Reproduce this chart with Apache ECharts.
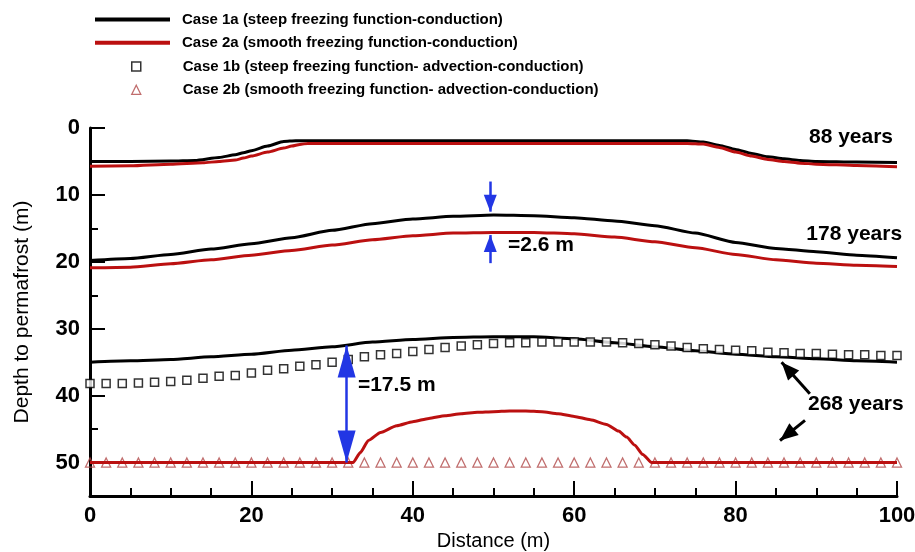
<!DOCTYPE html>
<html>
<head>
<meta charset="utf-8">
<script src="https://cdn.jsdelivr.net/npm/echarts@6/dist/echarts.min.js"></script>
<style>
  html, body { margin: 0; padding: 0; background: #fff; }
  #chart { width: 915px; height: 552px; }
</style>
</head>
<body>
<div id="chart"></div>
<script>
// ---- Series names (legend text) ----
const N1A = 'Case 1a (steep freezing function-conduction)';
const N2A = 'Case 2a (smooth freezing function-conduction)';
const N1B = 'Case 1b (steep freezing function- advection-conduction)';
const N2B = 'Case 2b (smooth freezing function- advection-conduction)';

// ---- 88 years ----
const dist88_1a  = [0, 5, 10, 13, 16, 18, 19, 20, 22, 24, 25.5, 40, 60, 74, 76, 78, 80, 82, 84, 86, 88, 90, 95, 100];
const depth88_1a = [5.0, 5.0, 4.95, 4.85, 4.4, 4.0, 3.7, 3.4, 2.7, 2.0, 1.9, 1.9, 1.9, 1.9, 2.1, 2.6, 3.2, 3.8, 4.3, 4.6, 4.85, 5.0, 5.1, 5.15];
const dist88_2a  = [0, 5, 10, 14, 16, 18, 19, 20, 22, 24, 25, 26, 27, 40, 60, 74, 76, 78, 80, 82, 84, 86, 88, 90, 95, 100];
const depth88_2a = [5.7, 5.65, 5.4, 5.2, 5.0, 4.8, 4.5, 4.2, 3.6, 3.0, 2.7, 2.45, 2.3, 2.3, 2.3, 2.3, 2.4, 2.9, 3.6, 4.2, 4.7, 5.0, 5.25, 5.4, 5.6, 5.8];

// ---- 178 and 268 years, conduction cases (every 5 m) ----
const dist5 = [0, 5, 10, 15, 20, 25, 30, 35, 40, 45, 50, 55, 60, 65, 70, 75, 80, 85, 90, 95, 100];
const depth178_1a = [19.8, 19.5, 18.9, 18.1, 17.3, 16.4, 15.3, 14.3, 13.6, 13.2, 13.0, 13.1, 13.4, 13.9, 14.6, 15.7, 17.1, 18.0, 18.5, 19.0, 19.4];
const depth178_2a = [20.9, 20.8, 20.3, 19.7, 19.0, 18.3, 17.5, 16.7, 16.1, 15.7, 15.6, 15.6, 15.8, 16.3, 17.0, 17.9, 18.9, 19.7, 20.2, 20.5, 20.7];
const depth268_1a = [35.0, 34.8, 34.6, 34.2, 33.8, 33.2, 32.7, 32.0, 31.6, 31.3, 31.2, 31.2, 31.5, 32.1, 32.7, 33.3, 33.8, 34.2, 34.5, 34.8, 35.0];

const dist268_2a  = [0, 10, 20, 30, 32.6, 33.5, 34.5, 36, 38, 40, 42, 44, 46, 48, 50, 52, 54, 56, 58, 60, 62, 64, 65.5, 66.5, 67.5, 68.5, 69.6, 80, 90, 100];
const depth268_2a = [50, 50, 50, 50, 50, 48.5, 46.7, 45.5, 44.5, 43.9, 43.4, 43.0, 42.7, 42.5, 42.4, 42.3, 42.3, 42.4, 42.7, 43.1, 43.6, 44.3, 45.3, 46.2, 47.4, 48.8, 50, 50, 50, 50];

// ---- 268 years, advection-conduction cases (every 2 m) ----
const dist2 = [0, 2, 4, 6, 8, 10, 12, 14, 16, 18, 20, 22, 24, 26, 28, 30, 32, 34, 36, 38, 40, 42, 44, 46, 48, 50,
               52, 54, 56, 58, 60, 62, 64, 66, 68, 70, 72, 74, 76, 78, 80, 82, 84, 86, 88, 90, 92, 94, 96, 98, 100];
const depth268_1b = [38.2, 38.2, 38.2, 38.1, 38.0, 37.9, 37.7, 37.4, 37.1, 37.0, 36.6, 36.2, 36.0, 35.6, 35.4, 35.0, 34.6,
                     34.2, 33.9, 33.7, 33.4, 33.1, 32.8, 32.6, 32.4, 32.2, 32.1, 32.1, 32.0, 32.0, 32.0, 32.0, 32.0, 32.1,
                     32.2, 32.4, 32.6, 32.8, 33.0, 33.1, 33.2, 33.3, 33.5, 33.6, 33.7, 33.7, 33.8, 33.9, 33.9, 34.0, 34.0];
const depth268_2b = [50, 50, 50, 50, 50, 50, 50, 50, 50, 50, 50, 50, 50, 50, 50, 50, 50, 50, 50, 50, 50, 50, 50, 50, 50, 50,
                     50, 50, 50, 50, 50, 50, 50, 50, 50, 50, 50, 50, 50, 50, 50, 50, 50, 50, 50, 50, 50, 50, 50, 50, 50];

// ---- Axis ticks ----
const xTicks = { min: 0, max: 100, major: 20, minorSplit: 4 };
const yTicks = { min: 0, max: 55, major: 10, minor: 5 };

// ---- Annotations ----
const gapAt50 = { x: 49.6, steep: 13.0, smooth: 15.6 };   // 2.6 m
const gap268 = { x: 31.8, bottom: 50, size: 17.5 };        // 17.5 m
const timeLabels = [
  { text: '88 years',  at: [94.3, 1.35] },
  { text: '178 years', at: [94.7, 15.9] },
  { text: '268 years', at: [94.9, 41.3] }
];

const FONT = "'Liberation Sans', Arial, sans-serif";
const RED = '#bb1010';
const TRI = '#b04848';
const BLUE = '#2236e4';

const zip = (xs, ys) => xs.map((x, i) => [x, ys[i]]);

function lineSeries(name, xs, ys, color) {
  return {
    name: name, type: 'line', data: zip(xs, ys), symbol: 'none', z: 2,
    smooth: 0.2, smoothMonotone: 'x',
    lineStyle: { color: color, width: 3 }, itemStyle: { color: color },
    animation: false, silent: true
  };
}

function arrowEnd(coord, size) {
  return { coord: coord, symbol: 'triangle', symbolSize: size, symbolOffset: [0, size[1] / 2] };
}
function arrow(from, to, color, width, size) {
  return [
    { coord: from, symbol: 'none', lineStyle: { color: color, width: width, type: 'solid' } },
    arrowEnd(to, size)
  ];
}

const labelFont = { fontFamily: FONT, fontWeight: 'bold', fontSize: 21, color: '#000' };
const legendText = { fontFamily: FONT, fontWeight: 'bold', fontSize: 15, lineHeight: 18, color: '#000' };

const chart = echarts.init(document.getElementById('chart'), null, { renderer: 'canvas' });

chart.setOption({
  animation: false,
  backgroundColor: '#fff',
  grid: { left: 90, right: 18, top: 128, bottom: 56, containLabel: false, outerBoundsMode: 'none' },
  legend: [
    {
      orient: 'vertical', left: 90, top: 5.5, itemWidth: 75, itemHeight: 4, itemGap: 5.3,
      selectedMode: false,
      textStyle: Object.assign({ padding: [0, 0, 0, 7] }, legendText),
      data: [
        { name: N1A, icon: 'path://M0,0H75V4H0Z', itemStyle: { color: '#000', borderWidth: 0 } },
        { name: N2A, icon: 'path://M0,0H75V4H0Z', itemStyle: { color: RED, borderWidth: 0 } }
      ]
    },
    {
      orient: 'vertical', left: 126, top: 52.5, itemWidth: 9, itemHeight: 9, itemGap: 5.3,
      selectedMode: false,
      textStyle: Object.assign({ padding: [0, 0, 0, 37] }, legendText),
      data: [
        { name: N1B, icon: 'rect', itemStyle: { color: '#fff', borderColor: '#000', borderWidth: 1.5 } },
        { name: N2B, icon: 'triangle', itemStyle: { color: '#fff', borderColor: TRI, borderWidth: 1.3 } }
      ]
    }
  ],
  xAxis: {
    type: 'value', min: xTicks.min, max: xTicks.max, interval: xTicks.major,
    name: 'Distance (m)', nameLocation: 'middle', nameGap: 31,
    nameTextStyle: { fontFamily: FONT, fontSize: 20, color: '#000' },
    axisLine: { show: true, onZero: false, lineStyle: { color: '#000', width: 3 } },
    axisTick: { show: true, inside: true, length: 15, lineStyle: { color: '#000', width: 2 } },
    minorTick: { show: true, splitNumber: xTicks.minorSplit, length: 8, lineStyle: { color: '#000', width: 2 } },
    splitLine: { show: false },
    axisLabel: { fontFamily: FONT, fontWeight: 'bold', fontSize: 22, color: '#000', margin: 9 }
  },
  yAxis: [
    {
      type: 'value', inverse: true, min: yTicks.min, max: yTicks.max, interval: yTicks.major, position: 'left',
      name: 'Depth to permafrost (m)', nameLocation: 'middle', nameGap: 57, nameRotate: 90,
      nameTextStyle: { fontFamily: FONT, fontSize: 21, color: '#000' },
      axisLine: { show: true, onZero: false, lineStyle: { color: '#000', width: 3 } },
      axisTick: { show: true, inside: true, length: 15, lineStyle: { color: '#000', width: 2 } },
      splitLine: { show: false },
      axisLabel: { fontFamily: FONT, fontWeight: 'bold', fontSize: 22, color: '#000', margin: 10, showMaxLabel: false }
    },
    {
      type: 'value', inverse: true, min: yTicks.min, max: yTicks.max, interval: yTicks.minor, position: 'left',
      axisLine: { show: false },
      axisTick: { show: true, inside: true, length: 8, lineStyle: { color: '#000', width: 2 } },
      splitLine: { show: false },
      axisLabel: { show: false }
    }
  ],
  series: [
    {
      name: N2B, type: 'scatter', data: zip(dist2, depth268_2b), symbol: 'triangle', symbolSize: 9, z: 1,
      itemStyle: { color: 'rgba(255,255,255,0)', borderColor: TRI, borderWidth: 1.3 }, silent: true
    },
    lineSeries(N1A, dist88_1a, depth88_1a, '#000'),
    lineSeries(N2A, dist88_2a, depth88_2a, RED),
    lineSeries(N1A, dist5, depth178_1a, '#000'),
    lineSeries(N2A, dist5, depth178_2a, RED),
    lineSeries(N1A, dist5, depth268_1a, '#000'),
    lineSeries(N2A, dist268_2a, depth268_2a, RED),
    {
      name: N1B, type: 'scatter', data: zip(dist2, depth268_1b), symbol: 'rect', symbolSize: 8, z: 3,
      itemStyle: { color: '#fff', borderColor: '#000', borderWidth: 1.5 }, silent: true
    },
    {
      name: 'notes', type: 'line', data: [], z: 5, silent: true,
      markLine: {
        silent: true, animation: false, symbol: 'none',
        label: { show: false },
        data: [
          // 17.5 m double arrow between Case 1a and Case 2a at 268 years
          [
            { coord: [gap268.x, gap268.bottom - gap268.size], symbol: 'triangle', symbolSize: [18, 32], symbolOffset: [0, 16],
              lineStyle: { color: BLUE, width: 2.5, type: 'solid' } },
            arrowEnd([gap268.x, gap268.bottom], [18, 32])
          ],
          // 2.6 m arrows at 178 years
          arrow([gapAt50.x, 8.0], [gapAt50.x, gapAt50.steep - 0.5], BLUE, 2.5, [13, 17]),
          arrow([gapAt50.x, 20.2], [gapAt50.x, gapAt50.smooth + 0.4], BLUE, 2.5, [13, 17]),
          // pointers from the 268 years label
          arrow([89.2, 39.7], [85.7, 35.0], '#000', 3, [15, 18]),
          arrow([88.6, 43.7], [85.5, 46.7], '#000', 3, [15, 18])
        ]
      },
      markPoint: {
        silent: true, animation: false,
        data: timeLabels.map(t => ({
          coord: t.at, symbol: 'circle', symbolSize: 0,
          label: Object.assign({ show: true, position: 'inside', formatter: t.text }, labelFont)
        })).concat([
          { coord: [51.8, 17.5], symbol: 'circle', symbolSize: 0,
            label: Object.assign({ show: true, position: 'right', distance: 0,
              formatter: '=' + (gapAt50.smooth - gapAt50.steep).toFixed(1) + ' m' }, labelFont) },
          { coord: [33.2, 38.5], symbol: 'circle', symbolSize: 0,
            label: Object.assign({ show: true, position: 'right', distance: 0,
              formatter: '=' + gap268.size.toFixed(1) + ' m' }, labelFont) }
        ])
      }
    }
  ]
});
</script>
</body>
</html>
